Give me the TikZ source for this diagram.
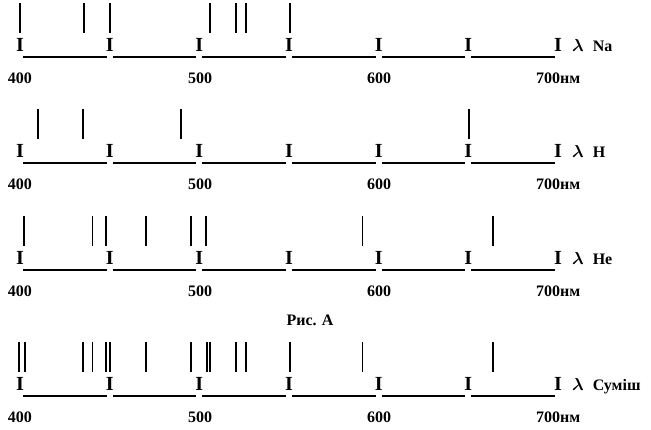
\documentclass[tikz,border=0pt]{standalone}
\usepackage{amsmath,amssymb,bm}
\usepackage{fontspec}
\setmainfont{Liberation Serif}
\usetikzlibrary{positioning}

\tikzset{
  tick/.style={inner sep=0pt,font=\fontsize{20}{20}\selectfont\bfseries},
  numlabel/.style={inner sep=0pt,font=\fontsize{16}{16}\selectfont\bfseries},
  axisline/.style={line width=1.4pt},
  specline/.style={line width=1.4pt}
}

% one spectrum row: prefix, axis y, name, list of line x positions
\newcommand{\spectrumrow}[4]{
  \foreach \i [evaluate=\i as \xx using 20+89.67*\i] in {0,...,6}
    \node[tick,anchor=base] (#1t\i) at (\xx,#2-5) {I};
  \foreach \i [count=\j from 1] in {0,...,5}
    \draw[axisline] ([xshift=3pt,yshift=-5pt]#1t\i.base) -- ([xshift=-3pt,yshift=-5pt]#1t\j.base);
  \node[numlabel,anchor=base] (#1l0) at (20,#2+27) {400};
  \node[numlabel,anchor=base] (#1l2) at (200,#2+27) {500};
  \node[numlabel,anchor=base] (#1l4) at (379,#2+27) {600};
  \node[numlabel,anchor=base west] (#1l6) at (536,#2+27) {700нм};
  \node[numlabel,anchor=base west] (#1lam) at (572,#2-5) {$\bm{\lambda}$\hspace{9pt}#3};
  \foreach \x in {#4}
    \draw[specline] (\x,#2-54) -- (\x,#2-24);
}

\begin{document}
\begin{tikzpicture}[x=1pt,y=-1pt]
  \useasboundingbox (0,0) rectangle (651,430);

  \spectrumrow{na}{57}{Na}{20,84,110,210,236,246,290}
  \spectrumrow{h}{163}{H}{38,83,181,469}
  \spectrumrow{he}{270}{He}{24,92.5,106,146,191,206,362.5,493}
  \node[numlabel] (fig) at (310,320) {Рис. А};
  \spectrumrow{mix}{396}{Суміш}{19,25,83,92.5,106,110,146,191,207,210,236,246,290,362.5,493}
\end{tikzpicture}
\end{document}
